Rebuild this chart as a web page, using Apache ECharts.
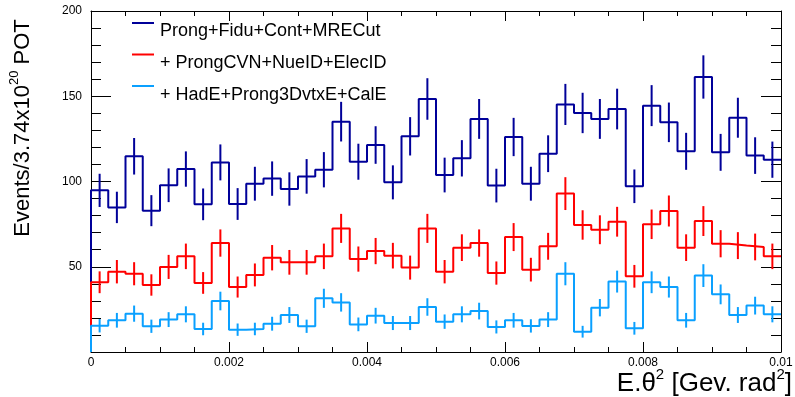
<!DOCTYPE html>
<html>
<head>
<meta charset="utf-8">
<script src="https://cdn.jsdelivr.net/npm/echarts@6/dist/echarts.min.js"></script>
<style>
  html, body { margin: 0; padding: 0; background: #fff; }
  #chart { width: 795px; height: 397px; }
</style>
</head>
<body>
<div id="chart"></div>
<script>
// 40 bins from 0 to 0.01
const xMin = 0
const xMax = 0.01
const nBins = 40

const seriesNames = [
  'Prong+Fidu+Cont+MRECut',
  '+ ProngCVN+NueID+ElecID',
  '+ HadE+Prong3DvtxE+CalE'
]
const seriesColors = ['#000099', '#ff0000', '#0aa0ff']

// bin contents
const fiduCounts = [
  94.8, 84.8, 114.8, 82.9, 97.8, 107.3, 86.6, 111.2, 86.8, 98.7,
  101.7, 95.6, 103.0, 106.9, 135.1, 111.6, 121.4, 99.5, 126.5, 148.4,
  103.8, 113.6, 136.7, 97.6, 126.1, 98.7, 116.3, 145.2, 140.2, 136.7,
  142.5, 97.2, 144.5, 134.7, 117.7, 161.3, 117.1, 137.4, 115.2, 112.8
]
const nueIdCounts = [
  40.9, 47.1, 45.9, 39.3, 49.9, 56.1, 40.5, 63.9, 38.1, 45.2,
  55.3, 52.6, 52.6, 56.1, 72.5, 54.5, 59.2, 56.5, 49.5, 72.5,
  47.1, 61.2, 63.9, 46.3, 67.4, 48.3, 62.0, 92.9, 74.5, 71.7,
  76.4, 44.4, 74.9, 82.7, 61.2, 76.8, 63.5, 62.4, 61.6, 56.1
]
const calECounts = [
  15.4, 18.6, 22.5, 15.1, 19.0, 22.1, 13.5, 29.9, 13.1, 13.5,
  16.6, 21.7, 15.1, 31.5, 29.1, 16.2, 21.3, 17.0, 17.0, 26.4,
  17.8, 22.1, 24.0, 14.7, 18.6, 15.3, 19.0, 45.9, 11.9, 26.0,
  41.3, 13.9, 40.9, 38.1, 18.6, 44.8, 33.8, 21.7, 27.2, 22.1
]

const xTickLabels = ['0', '0.002', '0.004', '0.006', '0.008', '0.01']
const yTickLabels = ['', '50', '100', '150', '200']

const binWidth = (xMax - xMin) / nBins
const font = 'Liberation Sans, Arial, Helvetica, sans-serif'

// histogram outline: start at 0 on the left edge, then one point per bin low edge
const stepData = (counts) => {
  const pts = [[xMin, 0]]
  counts.forEach((v, i) => pts.push([xMin + i * binWidth, v]))
  pts.push([xMax, counts[counts.length - 1]])
  return pts
}

// error bars at bin centres, poisson errors
const errData = (counts) => counts.map((v, i) => [xMin + (i + 0.5) * binWidth, v, Math.sqrt(v)])

const makeSeries = (counts, idx) => {
  const color = seriesColors[idx]
  return [
    {
      name: seriesNames[idx],
      type: 'line',
      step: 'end',
      data: stepData(counts),
      showSymbol: false,
      clip: false,
      z: 2 + idx,
      lineStyle: { color: color, width: 2 },
      itemStyle: { color: color },
      emphasis: { disabled: true },
      animation: false
    },
    {
      name: seriesNames[idx],
      type: 'custom',
      data: errData(counts),
      z: 2 + idx,
      animation: false,
      renderItem: (params, api) => {
        const x = api.value(0)
        const y = api.value(1)
        const e = api.value(2)
        const lo = api.coord([x, y - e])
        const hi = api.coord([x, y + e])
        return {
          type: 'line',
          shape: { x1: lo[0], y1: lo[1], x2: hi[0], y2: hi[1] },
          style: { stroke: color, lineWidth: 2 }
        }
      }
    }
  ]
}

const xAxisBase = {
  type: 'value',
  min: xMin,
  max: xMax,
  interval: 0.002,
  axisLine: { show: true, onZero: false, lineStyle: { color: '#000', width: 1 } },
  axisTick: { show: true, inside: true, length: 10, lineStyle: { color: '#000' } },
  minorTick: { show: true, splitNumber: 4, length: 5, lineStyle: { color: '#000' } },
  splitLine: { show: false },
  minorSplitLine: { show: false }
}

const yAxisBase = {
  type: 'value',
  min: 0,
  max: 200,
  interval: 50,
  axisLine: { show: true, onZero: false, lineStyle: { color: '#000', width: 1 } },
  axisTick: { show: true, inside: true, length: 20, lineStyle: { color: '#000' } },
  minorTick: { show: true, splitNumber: 5, length: 10, lineStyle: { color: '#000' } },
  splitLine: { show: false },
  minorSplitLine: { show: false }
}

const legendGraphics = []
seriesNames.forEach((name, i) => {
  const lineY = 23 + i * 31.5
  legendGraphics.push({
    type: 'line',
    shape: { x1: 132, y1: lineY, x2: 154, y2: lineY },
    style: { stroke: seriesColors[i], lineWidth: 2 }
  })
  legendGraphics.push({
    type: 'text',
    x: 160,
    y: 31 + i * 31.8,
    style: { text: name, font: '18px ' + font, fill: '#000', align: 'left', verticalAlign: 'middle' }
  })
})

const chart = echarts.init(document.getElementById('chart'), null, { renderer: 'canvas' })
chart.setOption({
  animation: false,
  backgroundColor: '#fff',
  grid: { left: 91, right: 14, top: 11, bottom: 45, containLabel: false, outerBoundsMode: 'none' },
  xAxis: [
    Object.assign({}, xAxisBase, {
      position: 'bottom',
      axisLabel: {
        show: true,
        margin: 5,
        fontSize: 12,
        fontFamily: font,
        color: '#000',
        formatter: (v) => xTickLabels[Math.round(v / 0.002)]
      }
    }),
    Object.assign({}, xAxisBase, { position: 'top', axisLabel: { show: false } })
  ],
  yAxis: [
    Object.assign({}, yAxisBase, {
      position: 'left',
      axisLabel: {
        show: true,
        margin: 9,
        fontSize: 12,
        fontFamily: font,
        color: '#000',
        formatter: (v) => yTickLabels[Math.round(v / 50)]
      }
    }),
    Object.assign({}, yAxisBase, { position: 'right', axisLabel: { show: false } })
  ],
  series: [].concat(
    makeSeries(fiduCounts, 0),
    makeSeries(nueIdCounts, 1),
    makeSeries(calECounts, 2)
  ),
  graphic: legendGraphics.concat([
    {
      // y axis title
      type: 'text',
      x: 21,
      y: 128,
      rotation: Math.PI / 2,
      style: {
        text: '{a|Events/3.74x10}{s|20}{a| POT}',
        align: 'center',
        verticalAlign: 'middle',
        fill: '#000',
        rich: {
          a: { fontSize: 22, fontFamily: font, lineHeight: 26, verticalAlign: 'bottom' },
          s: { fontSize: 13, fontFamily: font, lineHeight: 26, verticalAlign: 'top' }
        }
      }
    },
    {
      // x axis title
      type: 'text',
      x: 792,
      y: 382,
      style: {
        text: '{a|E.\u03b8}{s|2}{a| [Gev. rad}{s|2}{a|]}',
        align: 'right',
        verticalAlign: 'middle',
        fill: '#000',
        rich: {
          a: { fontSize: 26, fontFamily: font, lineHeight: 30, verticalAlign: 'bottom' },
          s: { fontSize: 15, fontFamily: font, lineHeight: 30, verticalAlign: 'top' }
        }
      }
    }
  ])
})
</script>
</body>
</html>
